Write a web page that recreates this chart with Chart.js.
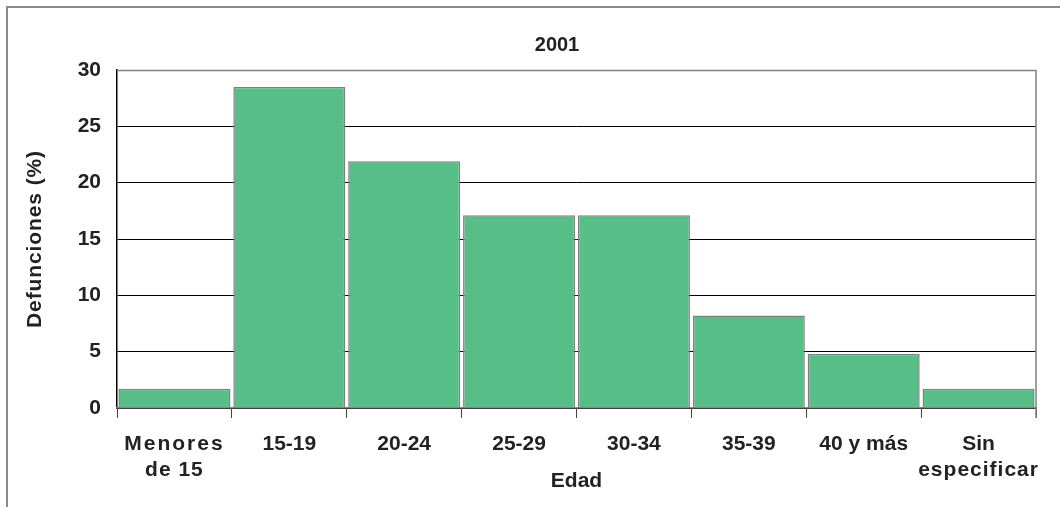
<!DOCTYPE html>
<html>
<head>
<meta charset="utf-8">
<script src="https://cdn.jsdelivr.net/npm/chart.js@4"></script>
<style>
  html, body { margin: 0; padding: 0; background: #fff; }
  #wrap { position: absolute; left: 6px; top: 6px; width: 1054px; height: 501px;
          border-top: 2px solid #8a8a8a; border-left: 2px solid #8a8a8a; box-sizing: border-box; }
  canvas { display: block; }
</style>
</head>
<body>
<div id="wrap"><canvas id="c"></canvas></div>
<script>
const categories = [["Menores", "de 15"], "15-19", "20-24", "25-29", "30-34", "35-39", "40 y más", ["Sin", "especificar"]];
const defunciones = [1.7, 28.5, 21.9, 17.1, 17.1, 8.2, 4.8, 1.7];
const yTicks = [0, 5, 10, 15, 20, 25, 30];

// letter spacing of the justified labels in the original picture
const spacedText = { 'Menores': '2px', 'de 15': '1px', 'especificar': '1px', 'Defunciones (%)': '0.9px' };

const frame = {
  id: 'frame',
  afterLayout(chart) {
    const t = chart.titleBlock;
    if (t) { t.left = 46; t.right = 1052; }
  },
  beforeDraw(chart) {
    const ctx = chart.ctx;
    const orig = ctx.fillText;
    chart.$origFill = orig;
    ctx.fillText = function (txt, x, y, w) {
      const ls = spacedText[txt];
      if (ls && 'letterSpacing' in ctx) {
        const prev = ctx.letterSpacing;
        ctx.letterSpacing = ls;
        orig.call(ctx, txt, x, y, w);
        ctx.letterSpacing = prev;
      } else {
        orig.call(ctx, txt, x, y, w);
      }
    };
  },
  afterDraw(chart) {
    const a = chart.chartArea, ctx = chart.ctx;
    ctx.fillText = chart.$origFill;
    ctx.save();
    ctx.strokeStyle = '#808080';
    ctx.lineWidth = 1.5;
    ctx.beginPath();
    ctx.moveTo(a.left, a.top + 0.5);
    ctx.lineTo(a.right, a.top + 0.5);
    ctx.lineTo(a.right, a.bottom + 10);
    ctx.stroke();
    ctx.restore();
  }
};

Chart.defaults.font.family = '"Liberation Sans", Arial, sans-serif';
Chart.defaults.color = '#222';

new Chart(document.getElementById('c'), {
  type: 'bar',
  data: {
    labels: categories,
    datasets: [{
      data: defunciones,
      backgroundColor: '#58be87',
      borderColor: '#808080',
      borderWidth: 1.5,
      categoryPercentage: 1.0,
      barPercentage: 0.975
    }]
  },
  options: {
    responsive: true,
    maintainAspectRatio: false,
    animation: false,
    layout: { padding: { top: 0, right: 24, left: 0, bottom: 0 } },
    plugins: {
      legend: { display: false },
      tooltip: { enabled: false },
      title: { display: true, text: '2001', font: { size: 20, weight: 'bold', lineHeight: 1.2 }, color: '#222',
               padding: { top: 25, bottom: 13 } }
    },
    scales: {
      y: {
        min: 0, max: 30,
        afterBuildTicks: s => { s.ticks = yTicks.map(v => ({ value: v })); },
        afterFit: s => { s.width = 109; },
        ticks: { font: { size: 21, weight: 'bold' }, color: '#222', padding: 16 },
        grid: { color: ctx => ctx.tick && ctx.tick.value === 30 ? 'rgba(0,0,0,0)' : '#000', lineWidth: 1, drawTicks: false },
        border: { color: '#000', width: 1.5 },
        title: { display: true, text: 'Defunciones (%)', font: { size: 21, weight: 'bold', lineHeight: 1.2 }, color: '#222', padding: { top: 15, bottom: 0 } }
      },
      x: {
        afterFit: s => { s.height = 99; },
        ticks: { font: { size: 21, weight: 'bold', lineHeight: 1.25 }, color: '#222', padding: 13, maxRotation: 0, autoSkip: false },
        grid: { offset: true, drawOnChartArea: false, drawTicks: true, tickLength: 10, color: '#444', lineWidth: 1 },
        border: { color: '#808080', width: 1.5 },
        title: { display: true, text: 'Edad', font: { size: 21, weight: 'bold', lineHeight: 1.2 }, color: '#222', padding: { top: 0, bottom: 13 } }
      }
    }
  },
  plugins: [frame]
});
</script>
</body>
</html>
